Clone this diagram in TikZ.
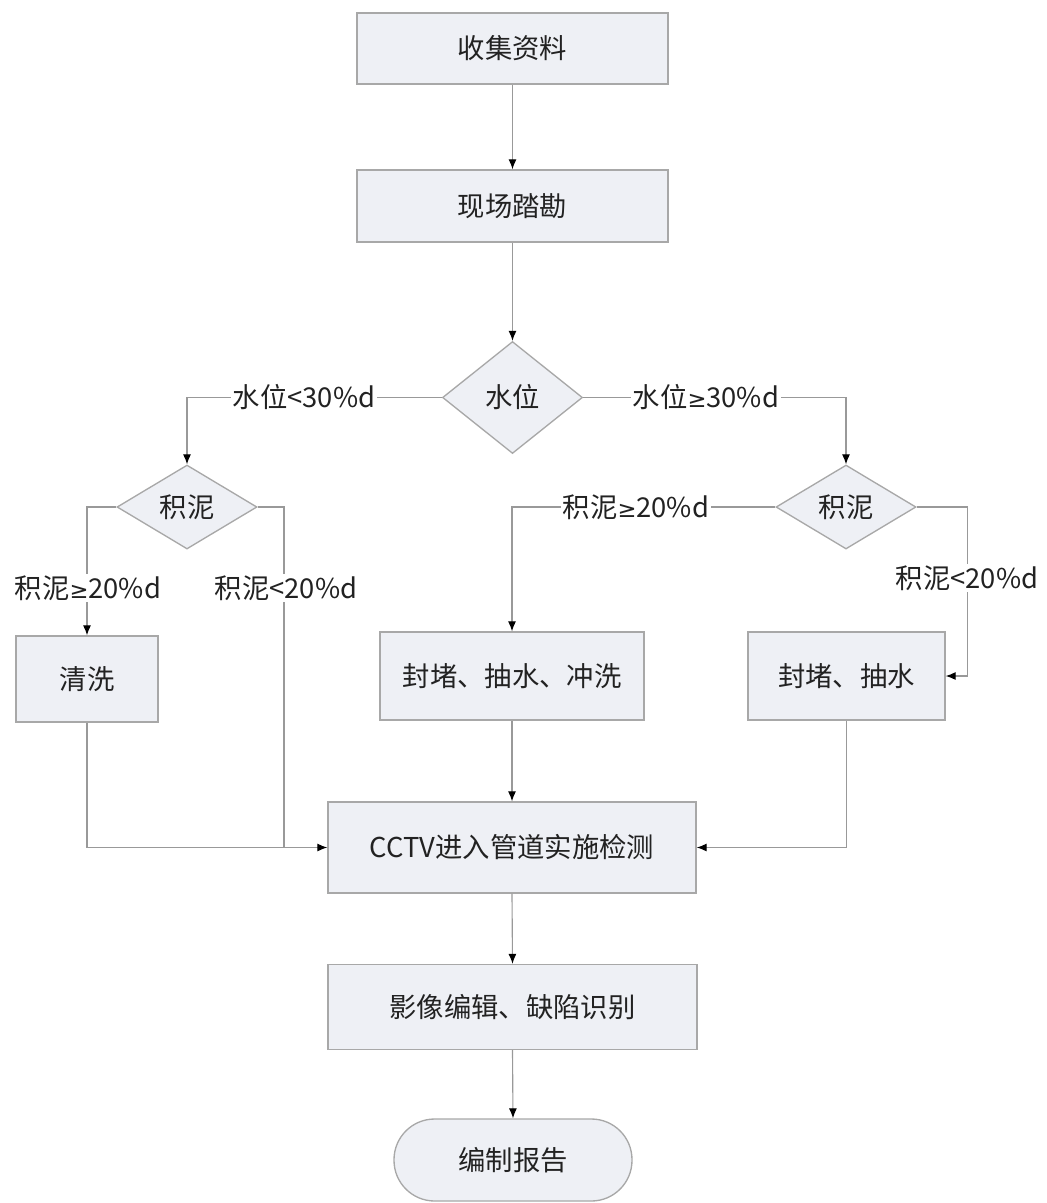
\documentclass[tikz,border=0pt]{standalone}
\usepackage{fontspec}
\setmainfont{Noto Sans CJK SC}
\newfontfamily\symfont{DejaVu Sans}
\usetikzlibrary{shapes.geometric,arrows.meta}
\definecolor{boxfill}{HTML}{EEF0F5}
\definecolor{boxline}{HTML}{A8A8A8}
\definecolor{lncol}{HTML}{999999}
\definecolor{txt}{HTML}{222222}
\newcommand{\geqsym}{{\symfont\fontsize{17}{20}\selectfont ≥}}
\begin{document}
\begin{tikzpicture}[x=0.75pt,y=-0.75pt,
  box/.style={draw=boxline,fill=boxfill,line width=1pt,rectangle,inner sep=0pt,text=txt,font=\fontsize{20.5}{24}\selectfont},
  dia/.style={box,diamond},
  lbl/.style={fill=white,inner sep=1.5pt,text=txt,font=\fontsize{20.5}{24}\selectfont},
  ln/.style={draw=lncol,line width=0.85pt},
  arr/.style={ln,-{Latex[length=7.5pt,width=6pt,color=black]}}]
\useasboundingbox (0,0) rectangle (1046,1203);
\node[box,minimum width=233.25pt,minimum height=53.25pt] (n1) at (512.5,48.5) {收集资料};
\node[box,minimum width=233.25pt,minimum height=54pt] (n2) at (512.5,206) {现场踏勘};
\node[dia,minimum width=105pt,minimum height=84pt] (d1) at (512.5,397.5) {水位};
\node[dia,minimum width=105pt,minimum height=63pt] (d2) at (187,507) {积泥};
\node[dia,minimum width=105pt,minimum height=63pt] (d3) at (846,507) {积泥};
\node[box,minimum width=106.5pt,minimum height=64.5pt] (qx) at (87,679) {清洗};
\node[box,minimum width=198pt,minimum height=66pt] (b1) at (512,676) {封堵、抽水、冲洗};
\node[box,minimum width=147.75pt,minimum height=66pt] (b2) at (846.5,676) {封堵、抽水};
\node[box,minimum width=276pt,minimum height=68.25pt] (cc) at (512,847.5) {CCTV进入管道实施检测};
\node[box,minimum width=276.75pt,minimum height=63.75pt] (yx) at (512.5,1007) {影像编辑、缺陷识别};
\node[box,minimum width=178.5pt,minimum height=61.5pt,rounded corners=30.5pt] (bg) at (513,1160) {编制报告};
\coordinate (j1) at (284,847.5);
% connectors
\draw[arr] (n1.south) -- (n2.north);
\draw[arr] (n2.south) -- (d1.north);
\draw[arr] (d1.west) -| (d2.north);
\draw[arr] (d1.east) -| (d3.north);
\draw[arr] (d2.west) -| (qx.north);
\draw[ln] (d2.east) -| (j1);
\draw[arr] (qx.south) |- (cc.west);
\draw[arr] (d3.west) -| (b1.north);
\draw[arr] (d3.east) -- ++(51,0) |- (b2.east);
\draw[arr] (b1.south) -- (cc.north);
\draw[arr] (b2.south) |- (cc.east);
\draw[arr] (cc.south) -- (yx.north);
\draw[arr] (yx.south) -- (bg.north);
% labels
\node[lbl] (l1) at (304,397.5) {水位<30\%d};
\node[lbl] (l2) at (706,397.5) {水位\geqsym30\%d};
\node[lbl] (l3) at (88,588) {积泥\geqsym20\%d};
\node[lbl] (l4) at (286,588) {积泥<20\%d};
\node[lbl] (l5) at (636,507) {积泥\geqsym20\%d};
\node[lbl] (l6) at (967,578) {积泥<20\%d};
\end{tikzpicture}
\end{document}
